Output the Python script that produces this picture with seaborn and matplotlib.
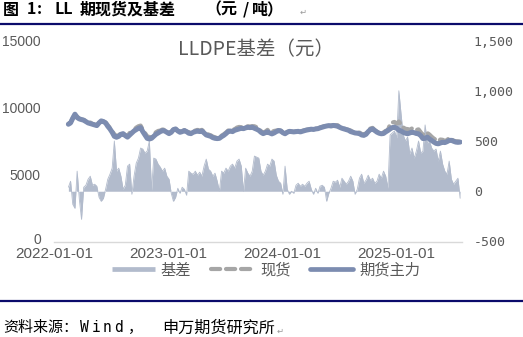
import pandas as pd
import matplotlib
matplotlib.use("Agg")
import matplotlib.pyplot as plt
from matplotlib.lines import Line2D
from matplotlib.transforms import ScaledTranslation
import seaborn as sns

# ---------------- data (weekly) ----------------
start_date = "2022-02-16"

futures = [
    8750, 8850, 9200, 9500, 9250, 9150, 9100, 9050, 8950, 8850,
    8800, 8750, 8700, 8650, 8850, 9000, 8950, 8850, 8600, 8400,
    8150, 7850, 7780, 7850, 8000, 8050, 7900, 7790, 7950, 8100,
    8250, 8350, 8450, 8500, 8200, 7950, 7700, 7650, 7700, 7850,
    8000, 8100, 8200, 8280, 8250, 8150, 8050, 8150, 8350, 8400,
    8250, 8150, 8200, 8280, 8200, 8080, 8050, 8150, 8200, 8250,
    8200, 8250, 8100, 7950, 7900, 7850, 7750, 7700, 7680, 7700,
    7820, 7920, 8050, 8200, 8250, 8200, 8300, 8350, 8400, 8450,
    8420, 8480, 8520, 8500, 8530, 8450, 8380, 8300, 8150, 8050,
    8120, 8180, 8100, 8030, 8100, 8200, 8280, 8250, 8120, 8040,
    8150, 8220, 8200, 8180, 8200, 8220, 8180, 8230, 8280, 8320,
    8350, 8380, 8360, 8400, 8420, 8480, 8530, 8580, 8620, 8650,
    8620, 8660, 8640, 8600, 8520, 8450, 8400, 8350, 8300, 8200,
    8150, 8100, 8080, 8050, 7950, 7920, 8000, 8200, 8350, 8400,
    8280, 8160, 8080, 8040, 8060, 8180, 8280, 8400, 8500, 8530,
    8450, 8300, 8250, 8150, 8080, 8040, 8100, 8160, 8120, 8060,
    8040, 7900, 7680, 7700, 7790, 7650, 7540, 7420, 7320, 7290,
    7350, 7410, 7380, 7450, 7540, 7550, 7480, 7420, 7400, 7420,
]

spot = [
    8780, 8880, 9200, 9500, 9330, 9150, 9100, 9080, 8980, 8930,
    8880, 8780, 8730, 8680, 8850, 9000, 8950, 8880, 8680, 8480,
    8230, 8000, 7860, 7930, 8080, 8080, 7930, 7870, 8100, 8100,
    8330, 8500, 8600, 8650, 8350, 8100, 7850, 7800, 7730, 8000,
    8150, 8250, 8280, 8360, 8330, 8230, 8130, 8150, 8350, 8400,
    8280, 8150, 8230, 8310, 8200, 8160, 8130, 8230, 8280, 8330,
    8280, 8330, 8180, 8100, 7980, 7930, 7830, 7780, 7710, 7700,
    7900, 8000, 8130, 8280, 8330, 8350, 8380, 8500, 8550, 8530,
    8420, 8560, 8600, 8580, 8610, 8600, 8530, 8450, 8230, 8130,
    8200, 8330, 8180, 8180, 8250, 8280, 8310, 8280, 8120, 8120,
    8180, 8220, 8200, 8180, 8230, 8250, 8210, 8260, 8310, 8350,
    8380, 8410, 8360, 8430, 8420, 8510, 8560, 8610, 8620, 8650,
    8650, 8690, 8670, 8680, 8550, 8530, 8430, 8380, 8330, 8280,
    8180, 8100, 8110, 8130, 8030, 7950, 8080, 8280, 8430, 8480,
    8310, 8190, 8160, 8120, 8140, 8260, 8310, 8760, 8880, 8920,
    8790, 8950, 8750, 8510, 8410, 8390, 8340, 8440, 8330, 8320,
    8370, 8150, 7940, 8130, 8100, 7980, 7820, 7680, 7590, 7490,
    7610, 7590, 7510, 7560, 7740, 7630, 7530, 7480, 7480, 7420,
]

basis = [
    40, 100, -130, -170, 200, -80, -280, 40, 60, 120,
    150, 60, 70, 50, -60, -100, -70, 20, 120, 170,
    230, 500, 200, 230, 150, 20, 60, 250, 270, -30,
    150, 280, 330, 430, 420, 380, 400, 500, 10, 330,
    320, 270, 240, 200, 230, 150, 120, -20, -100, -60,
    30, -20, 40, 20, -40, 200, 180, 170, 200, 160,
    190, 150, 250, 320, 220, 200, 150, 180, 100, 0,
    200, 180, 230, 200, 250, 270, 230, 300, 320, 250,
    0, 230, 180, 150, 200, 350, 340, 330, 200, 160,
    200, 270, 250, 320, 300, 160, 100, 80, -30, 250,
    20, -30, 0, -20, 60, 80, 50, 70, 50, 80,
    100, 20, -30, 30, -20, 50, 60, 40, -100, -20,
    30, 100, 90, 110, 40, 130, 100, 70, 100, 150,
    100, -30, 20, 130, 170, 80, 110, 160, 110, 130,
    80, 100, 170, 130, 200, 150, 30, 560, 580, 600,
    530, 1000, 770, 560, 500, 540, 370, 430, 330, 400,
    500, 380, 400, 660, 480, 500, 430, 400, 420, 300,
    400, 270, 200, 170, 300, 120, 70, 100, 130, -70,
]

x_tick_labels = ["2022-01-01", "2023-01-01", "2024-01-01", "2025-01-01"]
left_ticks = [0, 5000, 10000, 15000]
right_ticks = [-500, 0, 500, 1000, 1500]
legend_labels = ["基差", "现货", "期货主力"]
chart_title = "LLDPE基差（元）"

# ---------------- figure ----------------
dates = pd.date_range(start_date, periods=len(futures), freq="7D")
df = pd.DataFrame({"date": dates, "futures": futures, "spot": spot, "basis": basis})

sns.set_theme(style="white")
plt.rcParams["font.family"] = ["Noto Sans CJK SC", "DejaVu Sans"]

W, H = 523, 337
fig = plt.figure(figsize=(W / 100, H / 100), dpi=100)
ax = fig.add_axes([54 / W, 1 - 241.5 / H, 408 / W, 201 / H])
ax2 = ax.twinx()
ax2.set_zorder(0)
ax.set_zorder(1)
ax.patch.set_visible(False)

c_basis = "#b2bbcc"
c_spot = "#a6a6a6"
c_fut = "#7c8cb0"
c_txt = "#595959"
dash = (0, (2.2, 1.4))

ax2.fill_between(df["date"], 0, df["basis"], color=c_basis, lw=0)
sns.lineplot(data=df, x="date", y="basis", ax=ax2, color=c_basis, lw=0.6)
sns.lineplot(data=df, x="date", y="spot", ax=ax, color=c_spot, lw=3,
             linestyle=dash, dash_capstyle="round")
sns.lineplot(data=df, x="date", y="futures", ax=ax, color=c_fut, lw=3.6,
             solid_capstyle="round")

ax.set_xlim(pd.Timestamp("2022-01-01"), pd.Timestamp("2025-07-29"))
ax.set_xticks(pd.to_datetime(x_tick_labels))
ax.set_xticklabels(x_tick_labels, fontsize=11, family="Liberation Sans", color=c_txt)
ax.set_ylim(0, 15000)
ax.set_yticks(left_ticks)
ax.set_yticklabels([str(v) for v in left_ticks], fontsize=10,
                   family="Liberation Sans", color=c_txt)
ax2.set_ylim(-500, 1500)
ax2.set_yticks(right_ticks)
ax2.set_yticklabels([f"{v:,}" for v in right_ticks], fontsize=9.5,
                    family="DejaVu Sans Mono", color=c_txt)
ax.tick_params(axis="x", length=0, pad=4)
ax.tick_params(axis="y", length=0, pad=9.5)
ax2.tick_params(axis="y", length=0, pad=8.5)
for a in (ax, ax2):
    a.set_xlabel("")
    a.set_ylabel("")
    a.grid(False)
    for s in a.spines.values():
        s.set_visible(False)
ax.spines["bottom"].set_visible(True)
ax.spines["bottom"].set_color("#d9d9d9")
ax.spines["bottom"].set_linewidth(1)

# lift the "0" label a little so it does not collide with the first date label
zero_lbl = ax.get_yticklabels()[0]
zero_lbl.set_transform(zero_lbl.get_transform()
                       + ScaledTranslation(0, 3 / 100, fig.dpi_scale_trans))

fig.text(256.5 / W, 1 - 50 / H, chart_title, ha="center", va="center",
         fontsize=14, color=c_txt)

handles = [
    Line2D([], [], color=c_basis, lw=3.4, solid_capstyle="butt"),
    Line2D([], [], color=c_spot, lw=3, linestyle=dash, dash_capstyle="round"),
    Line2D([], [], color=c_fut, lw=3.4),
]
fig.legend(handles, legend_labels, loc="center", bbox_to_anchor=(266 / W, 1 - 270 / H),
           ncol=3, frameon=False, fontsize=11, handlelength=2.8, handletextpad=0.4,
           columnspacing=1.3, labelcolor=c_txt, borderpad=0)

# ---------------- document caption / source ----------------
def put(x, y, text, **kw):
    fig.text(x / W, 1 - y / H, text, ha="left", va="center", **kw)

def put_spaced(x, y, chars, pitch, **kw):
    for i, ch in enumerate(chars):
        put(x + i * pitch, y, ch, **kw)

tk = dict(fontsize=11.5, color="black", weight="bold")
put(3, 9.5, "图", **tk)
put(27, 9.5, "1", **tk)
put(37, 9.5, ":", **tk)
put(55, 9.5, "LL", **tk)
put(80, 9.5, "期现货及基差", **tk)
put(205, 9.5, "（元", **tk)
put(243, 9.5, "/", **tk)
put(252, 9.5, "吨）", **tk)
put(300, 12, "↵", fontsize=6, color="#999999", family="DejaVu Sans")

sk = dict(fontsize=10.8, color="black")
put(3, 328, "资料来源：", **sk)
put_spaced(80, 328, "Wind", 11.5, fontsize=10.5, color="black", family="DejaVu Sans Mono")
put(127, 328, "，", **sk)
put(162, 328, "申万期货研究所", fontsize=11.6, color="black")
put(277, 331, "↵", fontsize=6, color="#999999", family="DejaVu Sans")

for yy in (24, 300.5):
    fig.add_artist(Line2D([0, 1], [1 - yy / H, 1 - yy / H], transform=fig.transFigure,
                          color="#0b0b6b", lw=1.6))

fig.savefig("out.png", dpi=100)
